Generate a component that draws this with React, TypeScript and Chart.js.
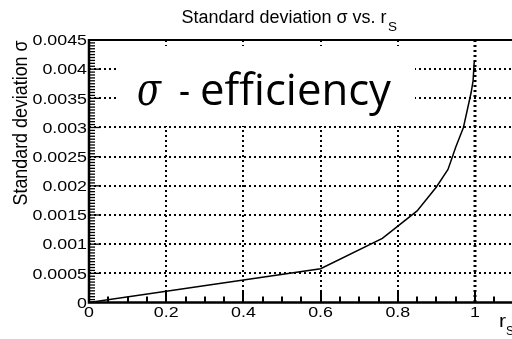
import React, { useEffect, useRef } from "react";
import { Chart, registerables } from "chart.js";

Chart.register(...registerables);

const rS = [0, 0.6, 0.76, 0.85, 0.9, 0.93, 0.95, 0.97, 0.98, 0.99, 0.995, 0.998];
const sigma = [0, 0.00058, 0.0011, 0.00157, 0.00198, 0.00228, 0.00266, 0.003, 0.0033, 0.0036, 0.0038, 0.00413];

const xTickLabels = ["0", "0.2", "0.4", "0.6", "0.8", "1"];
const yTickLabels = ["0", "0.0005", "0.001", "0.0015", "0.002", "0.0025", "0.003", "0.0035", "0.004", "0.0045"];

const TITLE = "Standard deviation \u03c3 vs. r";
const TITLE_SUB = "S";
const Y_TITLE = "Standard deviation \u03c3";
const X_TITLE = "r";
const X_TITLE_SUB = "S";
const BOX_SIGMA = "\u03c3";
const BOX_DASH = "-";
const BOX_WORD = "efficiency";

const SANS = "'Liberation Sans', Arial, sans-serif";

function fitText(ctx: CanvasRenderingContext2D, s: string, x: number, y: number, font: string, width: number | null, align: CanvasTextAlign, baseline: CanvasTextBaseline, sx = 1) {
  ctx.save();
  ctx.font = font;
  ctx.textAlign = align;
  ctx.textBaseline = baseline;
  let scale = sx;
  if (width) scale = width / ctx.measureText(s).width;
  ctx.translate(x, y);
  ctx.scale(scale, 1);
  ctx.fillStyle = "#000";
  ctx.fillText(s, 0, 0);
  ctx.restore();
}

const decor = {
  id: "decor",
  beforeDatasetsDraw(chart: any) {
    const ctx: CanvasRenderingContext2D = chart.ctx;
    const { left, right, top, bottom } = chart.chartArea;
    const xs = chart.scales.x;
    const ys = chart.scales.y;
    ctx.save();
    ctx.fillStyle = "#fff";
    ctx.fillRect(0, 0, chart.width, chart.height);
    ctx.strokeStyle = "#000";
    ctx.setLineDash([2, 3]);
    yTickLabels.forEach((l) => {
      const v = parseFloat(l);
      if (v === 0) return;
      const py = Math.round(ys.getPixelForValue(v));
      ctx.lineWidth = 2;
      ctx.beginPath();
      ctx.moveTo(left, py);
      ctx.lineTo(right + 10, py);
      ctx.stroke();
    });
    xTickLabels.forEach((l) => {
      const v = parseFloat(l);
      if (v === 0) return;
      const px = Math.round(xs.getPixelForValue(v));
      ctx.lineWidth = v === 1 ? 3 : 2;
      ctx.beginPath();
      ctx.moveTo(px, top);
      ctx.lineTo(px, bottom);
      ctx.stroke();
    });
    ctx.setLineDash([]);
    ctx.fillStyle = "#fff";
    ctx.fillRect(118, 46, 297, 80);
    fitText(ctx, BOX_SIGMA, 137, 105, "italic 46px 'DejaVu Serif', serif", 24, "left", "alphabetic");
    fitText(ctx, BOX_DASH, 179, 105, "42px 'Open Sans', sans-serif", 11, "left", "alphabetic");
    fitText(ctx, BOX_WORD, 200, 105, "43px 'Open Sans', sans-serif", 191, "left", "alphabetic");
    ctx.restore();
  },
  afterDatasetsDraw(chart: any) {
    const ctx: CanvasRenderingContext2D = chart.ctx;
    const { left, top, bottom } = chart.chartArea;
    const xs = chart.scales.x;
    const ys = chart.scales.y;
    ctx.save();
    ctx.strokeStyle = "#000";
    ctx.lineWidth = 2;
    ctx.beginPath();
    ctx.moveTo(left, top);
    ctx.lineTo(chart.width, top);
    ctx.stroke();
    ctx.lineWidth = 2.5;
    ctx.beginPath();
    ctx.moveTo(left, top - 1);
    ctx.lineTo(left, bottom);
    ctx.lineTo(chart.width, bottom);
    ctx.stroke();
    const yMax = parseFloat(yTickLabels[yTickLabels.length - 1]);
    const yStep = parseFloat(yTickLabels[1]);
    const yMinor = yStep / 10;
    ctx.lineWidth = 1.3;
    for (let i = 0; i <= Math.round(yMax / yMinor); i++) {
      const py = ys.getPixelForValue(i * yMinor);
      const major = i % 10 === 0;
      ctx.beginPath();
      ctx.moveTo(left, py);
      ctx.lineTo(left + (major ? 11 : 6), py);
      ctx.stroke();
    }
    const xStep = parseFloat(xTickLabels[1]);
    const xMinor = xStep / 4;
    ctx.lineWidth = 2;
    for (let i = 0; i * xMinor <= xs.max + 1e-9; i++) {
      const px = Math.round(xs.getPixelForValue(i * xMinor));
      const major = i % 4 === 0;
      ctx.beginPath();
      ctx.moveTo(px, bottom);
      ctx.lineTo(px, bottom - (major ? 11 : 6));
      ctx.stroke();
    }
    yTickLabels.forEach((l) => {
      const py = ys.getPixelForValue(parseFloat(l));
      fitText(ctx, l, 87, py + 1, `15.5px ${SANS}`, null, "right", "middle", 1.15);
    });
    xTickLabels.forEach((l) => {
      const px = xs.getPixelForValue(parseFloat(l));
      fitText(ctx, l, px, 313, `15.5px ${SANS}`, null, "center", "middle", 1.15);
    });
    fitText(ctx, TITLE, 181.5, 23, `18px ${SANS}`, 205, "left", "alphabetic");
    fitText(ctx, TITLE_SUB, 388, 31, `12px ${SANS}`, 9, "left", "alphabetic");
    ctx.save();
    ctx.translate(21, 123);
    ctx.rotate(-Math.PI / 2);
    ctx.scale(1, 1.15);
    fitText(ctx, Y_TITLE, 0, 0, `18px ${SANS}`, 165, "center", "middle");
    ctx.restore();
    fitText(ctx, X_TITLE, 499, 327, `18px ${SANS}`, 7, "left", "alphabetic");
    fitText(ctx, X_TITLE_SUB, 506, 335, `12px ${SANS}`, 8, "left", "alphabetic");
    ctx.restore();
  },
};

export default function App() {
  const ref = useRef<HTMLCanvasElement | null>(null);
  useEffect(() => {
    if (!ref.current) return;
    const chart = new Chart(ref.current, {
      type: "line",
      data: {
        datasets: [
          {
            data: rS.map((x, i) => ({ x, y: sigma[i] })),
            borderColor: "#000",
            borderWidth: 1.5,
            pointRadius: 0,
            tension: 0,
            fill: false,
          },
        ],
      },
      options: {
        responsive: false,
        animation: false,
        layout: { padding: { left: 89, top: 40, right: 6.4, bottom: 36.5 } },
        scales: {
          x: { type: "linear", min: 0, max: 1.1, display: false },
          y: { type: "linear", min: 0, max: 0.0045, display: false },
        },
        plugins: { legend: { display: false }, tooltip: { enabled: false }, title: { display: false } },
        events: [],
      },
      plugins: [decor],
    });
    return () => chart.destroy();
  }, []);
  return (
    <div style={{ position: "fixed", left: 0, top: 0, width: 520, height: 339, background: "#fff" }}>
      <canvas ref={ref} width={520} height={339} style={{ display: "block" }} />
    </div>
  );
}
